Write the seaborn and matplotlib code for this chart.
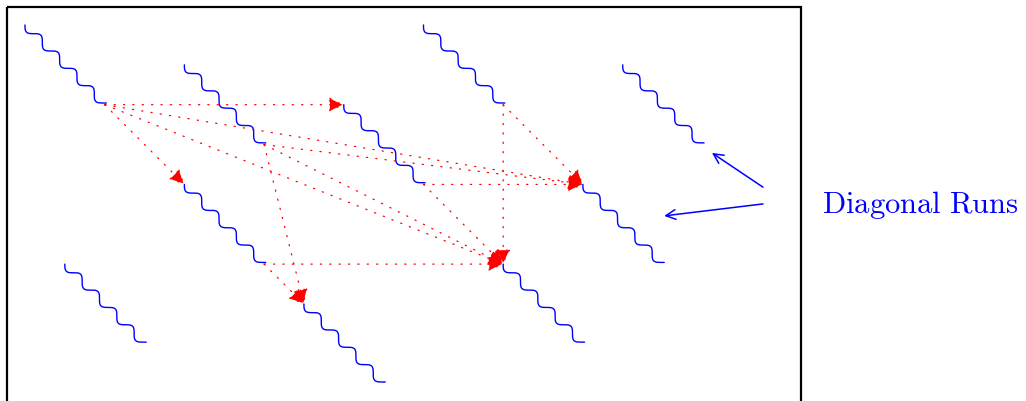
import numpy as np
import pandas as pd
import matplotlib.pyplot as plt
import seaborn as sns
from matplotlib.patches import Rectangle

# diagonal runs, start and end in grid units (x right, y down)
run_x0 = [0, 4, 8, 10, 15, 14, 4, 12, 7, 1]
run_y0 = [0, 1, 2, 0, 1, 4, 4, 6, 7, 6]
run_x1 = [2, 6, 10, 12, 17, 16, 6, 14, 9, 3]
run_y1 = [2, 3, 4, 2, 3, 6, 6, 8, 9, 8]

# dotted links: end of run src -> start of run dst
link_src = [0, 0, 0, 0, 1, 1, 1, 2, 2, 3, 3, 6, 6]
link_dst = [2, 6, 5, 7, 5, 7, 8, 5, 7, 5, 7, 7, 8]

# label and its pointer arrows
label = 'Diagonal Runs'
label_xy = (20.0, 4.72)
pointer_tail = [(18.52, 4.07), (18.52, 4.49)]
pointer_head = [(17.24, 3.21), (16.04, 4.79)]

# frame
frame_x0, frame_y0, frame_x1, frame_y1 = -0.45, -0.45, 19.47, 10.5


def snake(x0, y0, x1, y1, periods=4.6, amp=0.1, n=300):
    # wavy line along the segment, like tikz "snake" decoration
    s = np.linspace(0, 1, n)
    dx, dy = x1 - x0, y1 - y0
    length = np.hypot(dx, dy)
    nx, ny = -dy / length, dx / length
    off = amp * np.sin(2 * np.pi * periods * s)
    return x0 + s * dx + off * nx, y0 + s * dy + off * ny


rows = []
for i in range(len(run_x0)):
    xs, ys = snake(run_x0[i], run_y0[i], run_x1[i], run_y1[i])
    rows.append(pd.DataFrame({'x': xs, 'y': ys, 'run': i}))
runs_df = pd.concat(rows, ignore_index=True)

sns.set_theme(style='white')
plt.rcParams['mathtext.fontset'] = 'cm'

fig = plt.figure(figsize=(10.26, 4.01), dpi=100)
ax = fig.add_axes([0, 0, 1, 1])

sns.lineplot(data=runs_df, x='x', y='y', units='run', estimator=None, sort=False,
             color='#0000ff', lw=1.0, ax=ax, legend=False)

# red dotted links
for s, d in zip(link_src, link_dst):
    ax.annotate('', xy=(run_x0[d], run_y0[d]), xytext=(run_x1[s], run_y1[s]),
                arrowprops=dict(arrowstyle='-|>,head_length=0.6,head_width=0.3',
                                color='red', lw=0.9, linestyle=(0, (1, 6.5)),
                                shrinkA=0, shrinkB=0, mutation_scale=15))

# blue pointer arrows
for t, h in zip(pointer_tail, pointer_head):
    ax.annotate('', xy=h, xytext=t,
                arrowprops=dict(arrowstyle='->,head_length=0.5,head_width=0.25',
                                color='#0000ff', lw=1.1, shrinkA=0, shrinkB=0,
                                mutation_scale=14))

ax.add_patch(Rectangle((frame_x0, frame_y0), frame_x1 - frame_x0, frame_y1 - frame_y0,
                       fill=False, edgecolor='black', lw=1.6, zorder=5))

ax.text(label_xy[0], label_xy[1], r'$\mathrm{Diagonal\ Runs}$', color='#0000ff',
        fontsize=22, ha='left', va='baseline')

ax.set_xlim(-0.627, 25.12)
ax.set_ylim(9.435, -0.627)
ax.set_axis_off()

fig.savefig('out.png', dpi=100)
